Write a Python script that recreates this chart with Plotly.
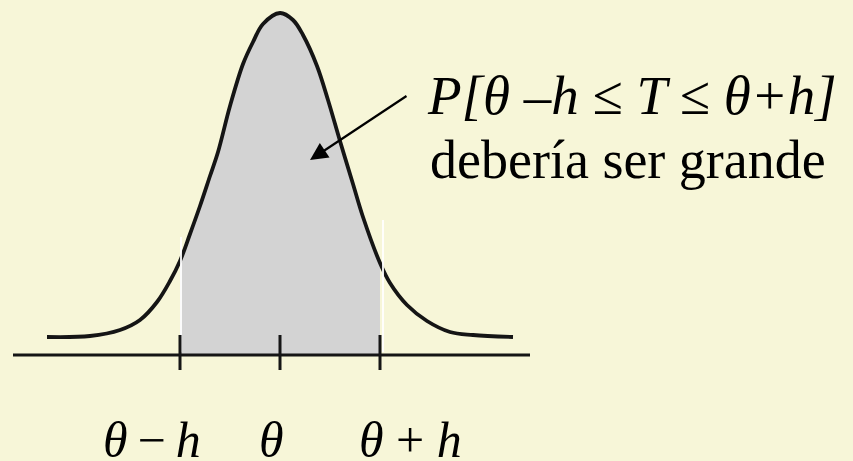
import plotly.graph_objects as go

# Bell curve traced as (x, y) samples; x in units of h around theta, y above the axis line
curve_x = [-2.33, -1.90, -1.60, -1.40, -1.23, -1.10, -1.00, -0.90, -0.80, -0.70, -0.62,
           -0.50, -0.37, -0.27, -0.17, 0.00, 0.13, 0.23, 0.37, 0.48, 0.60, 0.73, 0.83,
           1.00, 1.10, 1.27, 1.47, 1.70, 1.93, 2.33]
curve_y = [0.17, 0.18, 0.24, 0.34, 0.52, 0.73, 0.93, 1.20, 1.48, 1.78, 2.02,
           2.48, 2.90, 3.12, 3.30, 3.41, 3.34, 3.19, 2.88, 2.54, 2.13, 1.70, 1.37,
           0.91, 0.71, 0.49, 0.33, 0.22, 0.19, 0.17]

theta = 0.0
h = 1.0
tick_positions = [theta - h, theta, theta + h]
tick_labels = ["<i>θ</i>\u2009−\u2009<i>h</i>", "<i>θ</i>", "<i>θ</i> + <i>h</i>"]
label_x = [-1.28, -0.09, 1.30]

prob_text = "<i>P[θ –h ≤ T ≤ θ+h]</i>"
note_text = "debería ser grande"

W, H = 853, 461
BG = "rgb(247,246,216)"
INK = "#151515"
SERIF = "Liberation Serif, Times New Roman, serif"

fig = go.Figure()

# shaded area between theta-h and theta+h
shade_x = [x for x in curve_x if theta - h <= x <= theta + h]
shade_y = [y for x, y in zip(curve_x, curve_y) if theta - h <= x <= theta + h]
fig.add_trace(go.Scatter(
    x=shade_x, y=shade_y, mode="lines", line=dict(width=0, shape="spline"),
    fill="tozeroy", fillcolor="#d3d3d3", hoverinfo="skip"))

# light edges of the shaded band
for xe, ytop in zip([theta - h + 0.01, theta + h + 0.03], [1.17, 1.34]):
    fig.add_shape(type="line", x0=xe, x1=xe, y0=0.02, y1=ytop,
                  line=dict(color="rgba(255,255,255,0.9)", width=2), layer="above")

# density curve
fig.add_trace(go.Scatter(
    x=curve_x, y=curve_y, mode="lines",
    line=dict(color=INK, width=3.8, shape="spline", smoothing=1.0), hoverinfo="skip"))

# horizontal axis line and ticks
fig.add_shape(type="line", x0=-2.67, x1=2.50, y0=-0.01, y1=-0.01,
              line=dict(color=INK, width=3))
for t in tick_positions:
    fig.add_shape(type="line", x0=t, x1=t, y0=0.19, y1=-0.16,
                  line=dict(color=INK, width=3))

# tick labels below the axis
for lx, txt in zip(label_x, tick_labels):
    fig.add_annotation(x=lx, y=-0.86, xref="x", yref="y", text=txt, showarrow=False,
                       font=dict(family=SERIF, size=50, color="black"),
                       xanchor="center", yanchor="middle")

# probability statement with arrow into the shaded area
fig.add_annotation(x=0.30, y=1.94, ax=1.28, ay=2.59, xref="x", yref="y",
                   axref="x", ayref="y", text="", showarrow=True,
                   arrowhead=2, arrowsize=1.6, arrowwidth=2.2, arrowcolor="black")
fig.add_annotation(x=425 / W, y=1 - 95 / H, xref="paper", yref="paper",
                   text=prob_text, showarrow=False, xanchor="left", yanchor="middle",
                   font=dict(family=SERIF, size=55, color="black"))
fig.add_annotation(x=428 / W, y=1 - 160 / H, xref="paper", yref="paper",
                   text=note_text, showarrow=False, xanchor="left", yanchor="middle",
                   font=dict(family=SERIF, size=54, color="black"))

fig.update_layout(
    width=W, height=H, margin=dict(l=0, r=0, t=0, b=0),
    paper_bgcolor=BG, plot_bgcolor=BG, showlegend=False,
    xaxis=dict(range=[-2.80, 5.73], visible=False, fixedrange=True),
    yaxis=dict(range=[-1.07, 3.54], visible=False, fixedrange=True),
)

fig.write_html("out.html", config={"displayModeBar": False})
